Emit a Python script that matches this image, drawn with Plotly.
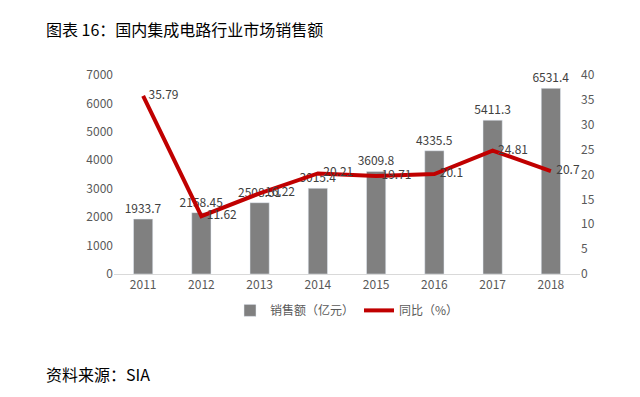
import plotly.graph_objects as go

years = ["2011", "2012", "2013", "2014", "2015", "2016", "2017", "2018"]
sales = [1933.7, 2158.45, 2508.51, 3015.4, 3609.8, 4335.5, 5411.3, 6531.4]
yoy = [35.79, 11.62, 16.22, 20.21, 19.71, 20.1, 24.81, 20.7]
sales_labels = ["1933.7", "2158.45", "2508.51", "3015.4", "3609.8", "4335.5", "5411.3", "6531.4"]
yoy_labels = ["35.79", "11.62", "16.22", "20.21", "19.71", "20.1", "24.81", "20.7"]

font_cjk = "Noto Sans CJK SC, Noto Sans, sans-serif"
tick_color = "#595959"

fig = go.Figure()
fig.add_trace(go.Bar(
    x=years, y=sales, name="销售额（亿元）",
    marker_color="#808080", width=0.33,
    text=sales_labels, textposition="outside", textangle=0,
    constraintext="none",
    textfont=dict(size=12, color="#404040"),
    outsidetextfont=dict(size=12, color="#404040"),
    cliponaxis=False,
))
fig.add_trace(go.Scatter(
    x=years, y=yoy, name="同比（%）", yaxis="y2",
    mode="lines+text", line=dict(color="#C00000", width=4),
    text=["  " + s for s in yoy_labels], textposition="middle right",
    textfont=dict(size=12, color="#404040"),
    cliponaxis=False,
))

fig.update_layout(
    width=640, height=397,
    margin=dict(l=106, r=68, t=67, b=131),
    paper_bgcolor="white", plot_bgcolor="white",
    font=dict(family=font_cjk, size=12, color=tick_color),
    showlegend=True,
    legend=dict(orientation="h", x=0.5, xanchor="center", y=-0.11, yanchor="top",
                font=dict(size=12, color=tick_color), traceorder="normal",
                itemwidth=30, tracegroupgap=0),
    uniformtext=dict(minsize=12, mode="show"),
    xaxis=dict(showline=True, linecolor="#D9D9D9", linewidth=1, ticks="",
               tickfont=dict(size=12, color=tick_color)),
    yaxis=dict(range=[0, 7000], dtick=1000, showgrid=False, zeroline=False,
               showline=False, ticks="", tickfont=dict(size=12, color=tick_color)),
    yaxis2=dict(range=[0, 40], dtick=5, overlaying="y", side="right",
                showgrid=False, zeroline=False, showline=False, ticks="",
                tickfont=dict(size=12, color=tick_color)),
    annotations=[
        dict(text="图表 16：国内集成电路行业市场销售额", xref="paper", yref="paper",
             x=-0.151, y=1.23, xanchor="left", yanchor="middle", showarrow=False,
             font=dict(size=16, color="#000000", family=font_cjk)),
        dict(text="资料来源：SIA", xref="paper", yref="paper",
             x=-0.151, y=-0.50, xanchor="left", yanchor="middle", showarrow=False,
             font=dict(size=16, color="#000000", family=font_cjk)),
    ],
)

fig.write_html("out.html")
